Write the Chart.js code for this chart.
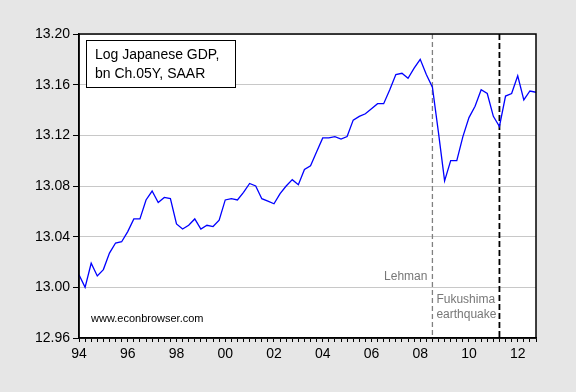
<!DOCTYPE html>
<html>
<head>
<meta charset="utf-8">
<script src="https://cdn.jsdelivr.net/npm/chart.js@4"></script>
<style>
  body { margin: 0; background: #e6e6e6; }
  #wrap { width: 576px; height: 392px; position: relative; }
</style>
</head>
<body>
<div id="wrap"><canvas id="gdp-chart"></canvas></div>
<script>
// quarterly, 1994Q1 .. 2012Q4
const startYear = 1994
const gdp = [
  13.010, 13.000, 13.019, 13.009,
  13.014, 13.027, 13.035, 13.036,
  13.044, 13.054, 13.054, 13.069,
  13.076, 13.067, 13.071, 13.070,
  13.050, 13.046, 13.049, 13.054,
  13.046, 13.049, 13.048, 13.053,
  13.069, 13.070, 13.069, 13.075,
  13.082, 13.080, 13.070, 13.068,
  13.066, 13.074, 13.080, 13.085,
  13.081, 13.093, 13.096, 13.107,
  13.118, 13.118, 13.119, 13.117,
  13.119, 13.132, 13.135, 13.137,
  13.141, 13.145, 13.145, 13.156,
  13.168, 13.169, 13.165, 13.173,
  13.180, 13.168, 13.158, 13.122,
  13.084, 13.100, 13.100, 13.119,
  13.134, 13.143, 13.156, 13.153,
  13.135, 13.127, 13.151, 13.153,
  13.167, 13.148, 13.155, 13.154
]
const yearLabels = ['94', '96', '98', '00', '02', '04', '06', '08', '10', '12']
const yTicks = [12.96, 13.00, 13.04, 13.08, 13.12, 13.16, 13.20]

// events, as quarter index from 1994Q1
const lehmanQ = 58      // 2008Q3
const fukushimaQ = 69   // 2011Q2

const legendLines = ['Log Japanese GDP,', 'bn Ch.05Y, SAAR']

const points = gdp.map((v, i) => ({ x: i, y: v }))

const framePlugin = {
  id: 'frame',
  beforeDraw(chart) {
    const { ctx, chartArea: a } = chart
    ctx.save()
    ctx.fillStyle = '#e6e6e6'
    ctx.fillRect(0, 0, chart.width, chart.height)
    ctx.fillStyle = '#ffffff'
    ctx.fillRect(a.left, a.top, a.right - a.left, a.bottom - a.top)
    ctx.restore()
  },
  beforeDatasetsDraw(chart) {
    const { ctx, chartArea: a, scales } = chart
    const lx = scales.x.getPixelForValue(lehmanQ)
    const fx = scales.x.getPixelForValue(fukushimaQ)
    ctx.save()
    ctx.strokeStyle = '#808080'
    ctx.lineWidth = 1.3
    ctx.setLineDash([5, 3])
    ctx.beginPath()
    ctx.moveTo(lx, a.top)
    ctx.lineTo(lx, a.bottom)
    ctx.stroke()
    ctx.strokeStyle = '#000000'
    ctx.lineWidth = 1.8
    ctx.setLineDash([6, 3])
    ctx.beginPath()
    ctx.moveTo(fx, a.top)
    ctx.lineTo(fx, a.bottom)
    ctx.stroke()
    ctx.restore()
  },
  afterDraw(chart) {
    const { ctx, chartArea: a, scales } = chart
    const lx = scales.x.getPixelForValue(lehmanQ)
    ctx.save()
    // plot border
    ctx.strokeStyle = '#000000'
    ctx.lineWidth = 1.5
    ctx.strokeRect(a.left, a.top, a.right - a.left, a.bottom - a.top)

    // legend box
    ctx.lineWidth = 1
    ctx.fillStyle = '#ffffff'
    ctx.fillRect(a.left + 7.5, a.top + 6.5, 149, 47)
    ctx.strokeRect(a.left + 7.5, a.top + 6.5, 149, 47)
    ctx.fillStyle = '#000000'
    ctx.font = '14px "Liberation Sans", Arial, sans-serif'
    ctx.textBaseline = 'alphabetic'
    ctx.fillText(legendLines[0], a.left + 16, a.top + 25)
    ctx.fillText(legendLines[1], a.left + 16, a.top + 43.5)

    ctx.font = '11px "Liberation Sans", Arial, sans-serif'
    ctx.fillText('www.econbrowser.com', a.left + 12, a.bottom - 16)

    ctx.fillStyle = '#777777'
    ctx.font = '12px "Liberation Sans", Arial, sans-serif'
    ctx.textAlign = 'right'
    ctx.fillText('Lehman', lx - 5, 279.5)
    ctx.textAlign = 'left'
    ctx.fillText('Fukushima', lx + 4, 303)
    ctx.fillText('earthquake', lx + 4, 317.5)
    ctx.restore()
  }
}

const gdpChart = new Chart(document.getElementById('gdp-chart'), {
  type: 'line',
  data: {
    datasets: [{
      label: 'Log Japanese GDP',
      data: points,
      borderColor: '#0000ff',
      borderWidth: 1.3,
      pointRadius: 0,
      tension: 0,
      fill: false
    }]
  },
  options: {
    responsive: true,
    maintainAspectRatio: false,
    animation: false,
    layout: {
      padding: { top: 34, right: 40, left: 0, bottom: 0 }
    },
    plugins: {
      legend: { display: false },
      tooltip: { enabled: false }
    },
    scales: {
      x: {
        type: 'linear',
        min: 0,
        max: gdp.length - 1,
        afterFit: (scale) => { scale.height = 54 },
        afterBuildTicks: (scale) => {
          scale.ticks = gdp.map((v, i) => ({ value: i }))
        },
        ticks: {
          autoSkip: false,
          maxRotation: 0,
          padding: 4,
          color: '#000000',
          font: { family: '"Liberation Sans", Arial, sans-serif', size: 14 },
          callback: (v) => (v % 8 === 0 ? yearLabels[v / 8] : '')
        },
        grid: {
          drawOnChartArea: false,
          tickLength: 4,
          tickColor: '#000000'
        },
        border: { color: '#000000', width: 1.5 }
      },
      y: {
        min: 12.96,
        max: 13.20,
        afterFit: (scale) => { scale.width = 79 },
        afterBuildTicks: (scale) => {
          scale.ticks = yTicks.map((v) => ({ value: v }))
        },
        ticks: {
          padding: 3,
          color: '#000000',
          font: { family: '"Liberation Sans", Arial, sans-serif', size: 14 },
          callback: (v) => v.toFixed(2)
        },
        grid: {
          color: '#c8c8c8',
          tickLength: 6,
          tickColor: '#000000'
        },
        border: { color: '#000000', width: 1.5 }
      }
    }
  },
  plugins: [framePlugin]
})
</script>
</body>
</html>
